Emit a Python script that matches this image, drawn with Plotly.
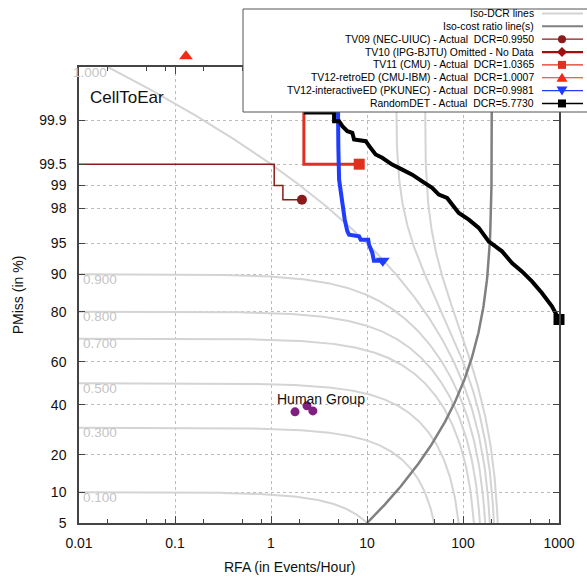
from statistics import NormalDist
import numpy as np
import plotly.graph_objects as go

ND = NormalDist()


def probit(pct):
    """Normal-deviate position of a miss percentage (DET y scale)."""
    return ND.inv_cdf(pct / 100.0)


# ---------------- data ----------------
y_tick_pct = [5, 10, 20, 40, 60, 80, 90, 95, 98, 99, 99.5, 99.9]
y_tick_text = ["5", "10", "20", "40", "60", "80", "90", "95", "98", "99", "99.5", "99.9"]
x_tick_vals = [0.01, 0.1, 1, 10, 100, 1000]
x_tick_text = ["0.01", "0.1", "1", "10", "100", "1000"]
x_minor_digits = [2, 5, 8]

y_min_pct, y_max_pct = 5, 99.99
beta = 0.005  # DCR = PMiss + beta * RFA
iso_dcr_levels = [0.1, 0.3, 0.5, 0.7, 0.8, 0.9, 1.0, 1.1, 1.2]

tv09_rfa = [0.005, 1.08, 1.08, 1.33, 1.33, 2.1]
tv09_pmiss = [99.5, 99.5, 99.0, 99.0, 98.45, 98.45]

tv11_rfa = [2.2, 2.2, 8.3]
tv11_pmiss = [99.999, 99.5, 99.5]

tv12r_rfa = [0.13]
tv12r_pmiss = [99.994]

tv12i_rfa = [4.9, 4.91, 5.03, 5.12, 5.33, 5.54, 5.86, 6.24, 6.50, 8.26, 8.60,
             10.3, 10.5, 11.35, 11.8, 14.6]
tv12i_pmiss = [99.999, 99.93, 99.73, 99.17, 98.74, 98.04, 97.28, 96.3, 95.97, 95.8,
               95.43, 95.43, 94.83, 93.76, 92.51, 92.51]

random_rfa = [2.31, 2.31, 4.54, 4.54, 5.12, 5.54, 6.24, 7.03, 7.33, 9.69, 10.9, 12.3,
              14.4, 18.3, 23.3, 29.6, 37.6, 47.7, 56.0, 68.3, 77.1, 90.4, 115, 146,
              185, 255, 324, 411, 523, 664, 844, 1000]
random_pmiss = [99.999, 99.927, 99.927, 99.897, 99.897, 99.875, 99.848, 99.839, 99.792,
                99.779, 99.718, 99.642, 99.599, 99.494, 99.40, 99.29, 99.12, 98.92,
                98.67, 98.53, 98.22, 97.74, 97.28, 96.61, 95.23, 93.95, 92.13, 90.57,
                88.44, 85.56, 81.67, 77.3]

human_rfa = [1.78, 2.37, 2.73]
human_pmiss = [36.8, 39.5, 37.2]

legend_labels = [
    "Iso-DCR lines",
    "Iso-cost ratio line(s)",
    "TV09 (NEC-UIUC) - Actual  DCR=0.9950",
    "TV10 (IPG-BJTU) Omitted - No Data",
    "TV11 (CMU) - Actual  DCR=1.0365",
    "TV12-retroED (CMU-IBM) - Actual  DCR=1.0007",
    "TV12-interactiveED (PKUNEC) - Actual  DCR=0.9981",
    "RandomDET - Actual  DCR=5.7730",
]

# ---------------- styles / geometry ----------------
FONT = "Liberation Sans, Arial, sans-serif"
C_ISO = "#d4d4d4"
C_COST = "#808080"
C_GRID = "#bcbcbc"
C_TV09 = "#8b1a1a"
C_TV10 = "#9e0f0f"
C_TV11 = "#e0301e"
C_TV12R = "#f42a10"
C_TV12I = "#1f3cff"
C_RAND = "#000000"
C_HUMAN = "#7f1f80"

W, H = 587, 578
L, R, T, B = 79, 28, 40, 55
AXIS_TOP = 67                      # pixel row of the top frame of the DET axes
PW, PH = W - L - R, H - T - B
main_top = (H - B - AXIS_TOP) / PH  # main y-axis domain top (paper units)
units_per_px = (probit(y_max_pct) - probit(y_min_pct)) / (H - B - AXIS_TOP)
strip_range = [probit(y_max_pct), probit(y_max_pct) + (AXIS_TOP - T) * units_per_px]

fig = go.Figure()


def py(vals):
    return [probit(v) for v in vals]


# iso-DCR curves: PMiss = DCR - beta * RFA
for dcr in iso_dcr_levels:
    r_lo = max(0.005, (dcr - y_max_pct / 100) / beta)
    r_hi = (dcr - y_min_pct / 100) / beta
    rfa = np.logspace(np.log10(r_lo), np.log10(r_hi), 400)
    pm = np.clip((dcr - beta * rfa) * 100, y_min_pct, y_max_pct)
    fig.add_trace(go.Scatter(x=rfa, y=py(pm), mode="lines",
                             line=dict(color=C_ISO, width=2),
                             hoverinfo="skip", showlegend=False))
    if dcr <= 1.0:
        fig.add_annotation(x=-2, y=probit(min(dcr * 100, y_max_pct)),
                           text=f"{dcr:.3f}", showarrow=False,
                           xanchor="left", yanchor="middle",
                           xshift=(-8 if dcr >= 1.0 else 2), yshift=-5,
                           font=dict(family=FONT, size=13.5, color="#c4c4c4"))

# iso-cost ratio line: PMiss = beta * RFA
cost_rfa = np.logspace(np.log10(y_min_pct / 100 / beta), np.log10(y_max_pct / 100 / beta), 300)
fig.add_trace(go.Scatter(x=cost_rfa, y=py(cost_rfa * beta * 100), mode="lines",
                         line=dict(color=C_COST, width=2.5),
                         hoverinfo="skip", showlegend=False))


def det_series(rfa, pmiss, color, width, symbol, msize):
    if len(rfa) > 1:
        fig.add_trace(go.Scatter(x=rfa, y=py(pmiss), mode="lines",
                                 line=dict(color=color, width=width),
                                 showlegend=False))
    # points beyond 99.99% go on the thin strip axis above the frame
    above = pmiss[-1] > y_max_pct
    fig.add_trace(go.Scatter(x=rfa[-1:], y=py(pmiss[-1:]), mode="markers",
                             marker=dict(color=color, symbol=symbol, size=msize),
                             xaxis="x2" if above else "x", yaxis="y2" if above else "y",
                             cliponaxis=False, showlegend=False))


det_series(tv09_rfa, tv09_pmiss, C_TV09, 1.5, "circle", 10)
det_series(tv11_rfa, tv11_pmiss, C_TV11, 3, "square", 11)
det_series(tv12r_rfa, tv12r_pmiss, C_TV12R, 1.5, "triangle-up", 12)
det_series(tv12i_rfa, tv12i_pmiss, C_TV12I, 4, "triangle-down", 12)
det_series(random_rfa, random_pmiss, C_RAND, 4, "square", 11)

fig.add_trace(go.Scatter(x=human_rfa, y=py(human_pmiss), mode="markers",
                         marker=dict(color=C_HUMAN, size=9), showlegend=False))
fig.add_annotation(x=np.log10(human_rfa[0]), y=probit(max(human_pmiss)),
                   text="Human Group", showarrow=False, xanchor="left",
                   xshift=-20, yshift=7,
                   font=dict(family=FONT, size=14, color="#111111"))


def px_x(x):
    return (x - L) / PW


def px_y(y):
    return (H - B - y) / PH


fig.add_annotation(xref="paper", yref="paper", x=px_x(88), y=px_y(97),
                   text="CellToEar", showarrow=False, xanchor="left", yanchor="middle",
                   font=dict(family=FONT, size=17, color="#111111"))

fig.add_annotation(xref="paper", yref="paper", x=px_x(290), y=px_y(567),
                   text="RFA (in Events/Hour)", showarrow=False, xanchor="center",
                   yanchor="middle", font=dict(family=FONT, size=14, color="#111111"))

# ---------------- legend box (text first, sample on the right) ----------------
shapes = [dict(type="rect", xref="paper", yref="paper", layer="above",
               x0=px_x(243), x1=px_x(600), y0=px_y(112), y1=px_y(9),
               fillcolor="white", line=dict(color="#555555", width=1))]

leg_colors = [C_ISO, C_COST, C_TV09, C_TV10, C_TV11, C_TV12R, C_TV12I, C_RAND]
leg_widths = [2, 2, 1.2, 2.2, 1.2, 1.2, 1.2, 1.5]
leg_marks = [None, None, "circle", "diamond", "square", "tri-up", "tri-down", "square"]
row_y0, row_dy = 13.5, 12.85
for i, (lab, col, lw, mk) in enumerate(zip(legend_labels, leg_colors, leg_widths, leg_marks)):
    yy = row_y0 + i * row_dy
    fig.add_annotation(xref="paper", yref="paper", x=px_x(536), y=px_y(yy), text=lab,
                       showarrow=False, xanchor="right", yanchor="middle",
                       font=dict(family=FONT, size=10.4, color="#000000"))
    shapes.append(dict(type="line", xref="paper", yref="paper", layer="above",
                       x0=px_x(542), x1=px_x(583), y0=px_y(yy), y1=px_y(yy),
                       line=dict(color=col, width=lw)))
    cx, s = 562, 4
    if mk == "circle":
        shapes.append(dict(type="circle", xref="paper", yref="paper", layer="above",
                           x0=px_x(cx - s), x1=px_x(cx + s), y0=px_y(yy + s), y1=px_y(yy - s),
                           fillcolor=col, line=dict(color=col, width=0)))
    elif mk == "square":
        shapes.append(dict(type="rect", xref="paper", yref="paper", layer="above",
                           x0=px_x(cx - s), x1=px_x(cx + s), y0=px_y(yy + s), y1=px_y(yy - s),
                           fillcolor=col, line=dict(color=col, width=0)))
    elif mk in ("diamond", "tri-up", "tri-down"):
        if mk == "diamond":
            pts = [(cx, yy - 5), (cx + 5, yy), (cx, yy + 5), (cx - 5, yy)]
        elif mk == "tri-up":
            pts = [(cx, yy - 5), (cx + 5.5, yy + 4), (cx - 5.5, yy + 4)]
        else:
            pts = [(cx, yy + 5), (cx + 5.5, yy - 4), (cx - 5.5, yy - 4)]
        path = "M " + " L ".join(f"{px_x(a):.5f},{px_y(b):.5f}" for a, b in pts) + " Z"
        shapes.append(dict(type="path", xref="paper", yref="paper", layer="above",
                           path=path, fillcolor=col, line=dict(color=col, width=0)))

minor_vals = [d * 10.0 ** k for k in range(-2, 3) for d in x_minor_digits]

fig.update_layout(
    width=W, height=H,
    margin=dict(l=L, r=R, t=T, b=B),
    paper_bgcolor="white", plot_bgcolor="rgba(0,0,0,0)",
    font=dict(family=FONT, size=14, color="#111111"),
    shapes=shapes,
    xaxis=dict(type="log", range=[-2, 3], tickvals=x_tick_vals, ticktext=x_tick_text,
               ticks="inside", ticklen=7, tickwidth=1, tickcolor="#444444",
               showline=True, linecolor="#444444", linewidth=1.5, mirror="ticks",
               showgrid=True, gridcolor=C_GRID, griddash="dot", gridwidth=1,
               zeroline=False, tickfont=dict(size=14), ticklabelstandoff=6,
               minor=dict(tickvals=minor_vals, ticks="inside", ticklen=4,
                          tickcolor="#444444", showgrid=False)),
    yaxis=dict(domain=[0, main_top], range=[probit(y_min_pct), probit(y_max_pct)],
               tickvals=py(y_tick_pct), ticktext=y_tick_text,
               ticks="inside", ticklen=6, tickwidth=1, tickcolor="#444444",
               showline=True, linecolor="#444444", linewidth=1.5, mirror="ticks",
               showgrid=True, gridcolor=C_GRID, griddash="dot", gridwidth=1,
               zeroline=False, tickfont=dict(size=14), ticklabelstandoff=8,
               title=dict(text="PMiss (in %)", font=dict(size=14), standoff=12)),
    xaxis2=dict(type="log", range=[-2, 3], domain=[0, 1], anchor="y2", visible=False),
    yaxis2=dict(range=strip_range, domain=[main_top, 1], anchor="x2", visible=False),
    showlegend=False,
)

fig.write_html("out.html")
